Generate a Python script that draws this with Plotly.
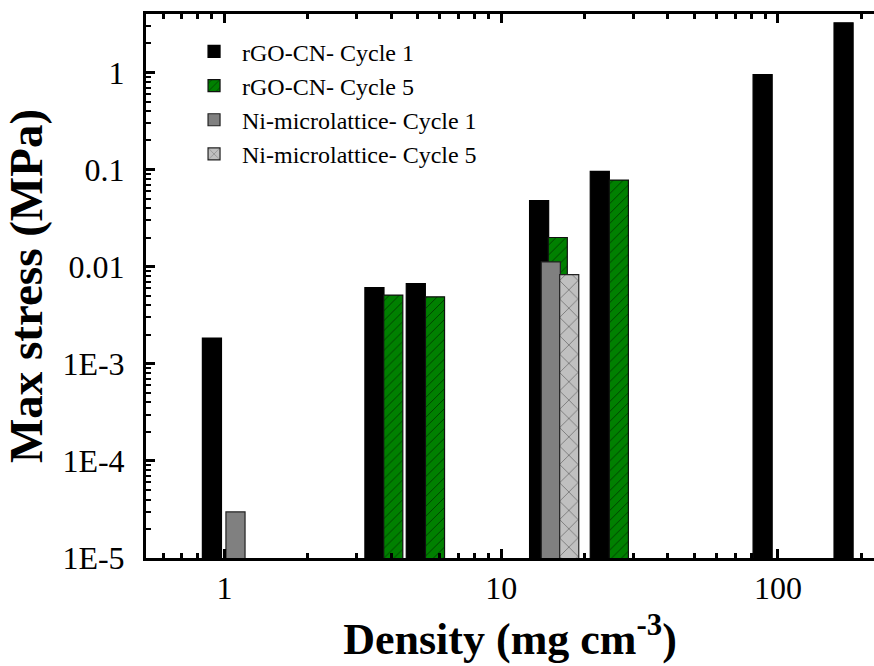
import numpy as np
import plotly.graph_objects as go

# ---- data ----
rgo_c1_density = [0.90, 3.48, 4.91, 13.7, 22.7, 88.0, 172.6]
rgo_c1_stress = [1.84e-3, 6.1e-3, 6.7e-3, 0.048, 0.096, 0.95, 3.25]

rgo_c5_density = [4.07, 5.76, 16.0, 26.6]
rgo_c5_stress = [5.1e-3, 4.9e-3, 0.020, 0.078]

ni_c1_density = [1.095, 15.1]
ni_c1_stress = [2.98e-5, 0.0112]

ni_c5_density = [17.6]
ni_c5_stress = [8.3e-3]

x_tick_vals = [1, 10, 100]
x_tick_text = ["1", "10", "100"]
y_tick_vals = [1e-5, 1e-4, 1e-3, 1e-2, 1e-1, 1]
y_tick_text = ["1E-5", "1E-4", "1E-3", "0.01", "0.1", "1"]

FONT = "Liberation Serif, Times New Roman, serif"
BAR_W = 0.069  # bar width in decades
Y_RANGE = [-5, 0.603]

fig = go.Figure()

def add_bar(name, dens, vals, color, line_color, pattern=None):
    marker = dict(color=color, line=dict(color=line_color, width=1.2))
    if pattern:
        marker["pattern"] = pattern
    fig.add_trace(go.Bar(
        name=name, x=np.log10(dens), y=vals, width=BAR_W, marker=marker,
    ))

add_bar("rGO-CN- Cycle 1", rgo_c1_density, rgo_c1_stress, "black", "black")
add_bar("rGO-CN- Cycle 5", rgo_c5_density, rgo_c5_stress, "#008000", "#111111",
        pattern=dict(shape="/", fgcolor="black", bgcolor="#008000", size=7, solidity=0.14,
                     fillmode="overlay"))
add_bar("Ni-microlattice- Cycle 1", ni_c1_density, ni_c1_stress, "#808080", "#222222")
add_bar("Ni-microlattice- Cycle 5", ni_c5_density, ni_c5_stress, "#C0C0C0", "#222222",
        pattern=dict(shape="x", fgcolor="black", bgcolor="#C0C0C0", size=13, solidity=0.1,
                     fillmode="overlay"))

x_minor = []
for dec in [0.1, 1, 10, 100]:
    for m in range(2, 10):
        v = dec * m
        if 0.5 < v < 230:
            x_minor.append(np.log10(v))

y_minor = []
for dec in [1e-5, 1e-4, 1e-3, 1e-2, 1e-1, 1]:
    for m in range(2, 10):
        v = dec * m
        if v < 4.1:
            y_minor.append(v)

fig.update_layout(
    width=874, height=666,
    margin=dict(l=146, r=0, t=14, b=108),
    paper_bgcolor="white", plot_bgcolor="white",
    barmode="overlay",
    font=dict(family=FONT, color="black"),
    showlegend=True,
    legend=dict(
        x=0.055, y=0.972, xanchor="left", yanchor="top",
        font=dict(family=FONT, size=24, color="black"),
        bgcolor="rgba(0,0,0,0)", itemwidth=46,
        traceorder="normal",
    ),
    xaxis=dict(
        range=[-0.284, 2.347],
        tickmode="array", tickvals=np.log10(x_tick_vals), ticktext=x_tick_text,
        ticks="inside", ticklen=9, tickwidth=2.5, tickcolor="black",
        showline=True, linecolor="black", linewidth=3, mirror="allticks",
        showgrid=False, zeroline=False,
        tickfont=dict(family=FONT, size=32, color="black"),
        minor=dict(tickmode="array", tickvals=x_minor, ticks="inside",
                   ticklen=5, tickwidth=2.5, tickcolor="black", showgrid=False),
        title=dict(text="<b>Density (mg cm<sup>-3</sup>)</b>",
                   font=dict(family=FONT, size=44, color="black"), standoff=18),
    ),
    yaxis=dict(
        type="log", range=Y_RANGE,
        tickmode="array", tickvals=y_tick_vals, ticktext=y_tick_text,
        ticks="inside", ticklen=9, tickwidth=2.5, tickcolor="black",
        showline=True, linecolor="black", linewidth=3, mirror=False,
        showgrid=False, zeroline=False,
        tickfont=dict(family=FONT, size=32, color="black"),
        ticklabelstandoff=12,
        minor=dict(tickmode="array", tickvals=y_minor, ticks="inside",
                   ticklen=5, tickwidth=2, tickcolor="black", showgrid=False),
        title=dict(text="<b>Max stress (MPa)</b>",
                   font=dict(family=FONT, size=47, color="black"), standoff=14),
    ),
    yaxis2=dict(
        type="log", range=Y_RANGE, overlaying="y", side="right",
        tickmode="array", tickvals=y_tick_vals, showticklabels=False,
        ticks="inside", ticklen=5, tickwidth=2.5, tickcolor="black",
        showline=False, showgrid=False, zeroline=False,
    ),
)

fig.write_html("out.html")
